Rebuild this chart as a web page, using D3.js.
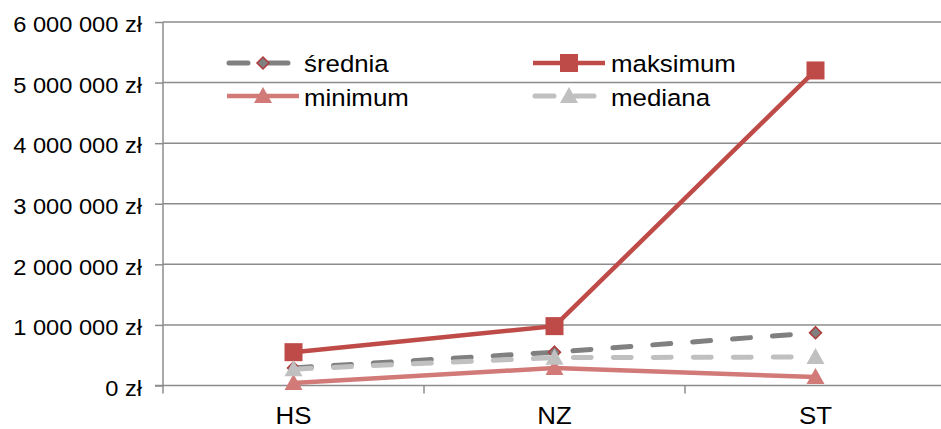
<!DOCTYPE html>
<html>
<head>
<meta charset="utf-8">
<script src="https://cdn.jsdelivr.net/npm/d3@7"></script>
<style>
  body { margin: 0; background: #fff; }
  text { font-family: "Liberation Sans", Arial, sans-serif; fill: #000; }
</style>
</head>
<body>
<script>
// Data
const categories = ['HS', 'NZ', 'ST'];
const srednia = [290000, 550000, 870000];
const maksimum = [550000, 980000, 5200000];
const minimum = [40000, 290000, 140000];
const mediana = [270000, 460000, 470000];
const yTicks = [0, 1000000, 2000000, 3000000, 4000000, 5000000, 6000000];
const yTickLabels = ['0 zł', '1 000 000 zł', '2 000 000 zł', '3 000 000 zł', '4 000 000 zł', '5 000 000 zł', '6 000 000 zł'];

const series = [
    { name: 'średnia', values: srednia, color: '#808080', width: 5, dash: '18,22', marker: 'diamond' },
    { name: 'maksimum', values: maksimum, color: '#BE4B48', width: 4.5, dash: null, marker: 'square' },
    { name: 'minimum', values: minimum, color: '#D27A78', width: 4.5, dash: null, marker: 'triangle' },
    { name: 'mediana', values: mediana, color: '#C0C0C0', width: 5, dash: '18,22', marker: 'triangle' }
];

const W = 941, H = 429;
const plotLeft = 163, plotRight = 946, plotTop = 22, plotBottom = 385.5;
const sx = 1.1; // horizontal stretch of the text

const svg = d3.select('body').append('svg')
    .attr('width', W)
    .attr('height', H);

const x = d3.scaleBand().domain(categories).range([plotLeft, plotRight]).padding(0);
const cx = c => x(c) + x.bandwidth() / 2;
const y = d3.scaleLinear().domain([0, 6000000]).range([plotBottom, plotTop]);

// gridlines
svg.append('g').selectAll('line')
    .data(yTicks.slice(1))
    .enter().append('line')
    .attr('x1', plotLeft).attr('x2', W)
    .attr('y1', d => y(d)).attr('y2', d => y(d))
    .attr('stroke', '#8c8c8c').attr('stroke-width', 1.5);

// y axis
const yAxis = svg.append('g')
    .attr('transform', `translate(${plotLeft},0)`)
    .call(d3.axisLeft(y).tickValues(yTicks).tickSize(8)
        .tickFormat((d, i) => yTickLabels[i]));
yAxis.select('.domain').remove();
yAxis.selectAll('.tick line').attr('stroke', '#8c8c8c').attr('stroke-width', 1.5);
yAxis.selectAll('.tick text')
    .attr('x', -21 / sx)
    .attr('dy', '0.45em')
    .attr('transform', `scale(${sx},1)`)
    .style('font-size', '21.5px');
svg.append('line')
    .attr('x1', plotLeft).attr('x2', plotLeft)
    .attr('y1', plotTop).attr('y2', plotBottom + 8)
    .attr('stroke', '#8c8c8c').attr('stroke-width', 1.5);

// x axis
svg.append('line')
    .attr('x1', plotLeft - 8).attr('x2', W)
    .attr('y1', plotBottom).attr('y2', plotBottom)
    .attr('stroke', '#8c8c8c').attr('stroke-width', 1.5);
svg.append('g').selectAll('line')
    .data(categories.slice(1))
    .enter().append('line')
    .attr('x1', d => x(d)).attr('x2', d => x(d))
    .attr('y1', plotBottom).attr('y2', plotBottom + 8)
    .attr('stroke', '#8c8c8c').attr('stroke-width', 1.5);
svg.append('g').selectAll('text')
    .data(categories)
    .enter().append('text')
    .attr('transform', d => `translate(${cx(d)},424) scale(${sx},1)`)
    .attr('text-anchor', 'middle')
    .style('font-size', '23.5px')
    .text(d => d);

// markers
function drawMarker(g, type, px, py, s) {
    if (type === 'square') {
        g.append('rect')
            .attr('x', px - 9).attr('y', py - 9)
            .attr('width', 18).attr('height', 18)
            .attr('fill', s.color);
    } else if (type === 'triangle') {
        g.append('path')
            .attr('d', `M${px},${py - 9}L${px + 9},${py + 7}L${px - 9},${py + 7}Z`)
            .attr('fill', s.color);
    } else if (type === 'diamond') {
        g.append('path')
            .attr('d', `M${px},${py - 6}L${px + 6},${py}L${px},${py + 6}L${px - 6},${py}Z`)
            .attr('fill', '#808080')
            .attr('stroke', '#B03A3A')
            .attr('stroke-width', 1.5);
    }
}

const line = d3.line()
    .x((d, i) => cx(categories[i]))
    .y(d => y(d));

series.forEach(s => {
    const g = svg.append('g');
    g.append('path')
        .attr('d', line(s.values))
        .attr('fill', 'none')
        .attr('stroke', s.color)
        .attr('stroke-width', s.width)
        .attr('stroke-linecap', s.dash ? 'round' : 'butt')
        .attr('stroke-dasharray', s.dash);
    s.values.forEach((v, i) => drawMarker(g, s.marker, cx(categories[i]), y(v), s));
});

// legend
const legendPos = [
    { x1: 229, x2: 289, mx: 263, ly: 63, tx: 304, ty: 72 },
    { x1: 533, x2: 605, mx: 569, ly: 63, tx: 611, ty: 72 },
    { x1: 227, x2: 299, mx: 263, ly: 96, tx: 304, ty: 106 },
    { x1: 535, x2: 595, mx: 569, ly: 96, tx: 611, ty: 106 }
];
series.forEach((s, i) => {
    const p = legendPos[i];
    const g = svg.append('g');
    g.append('line')
        .attr('x1', p.x1).attr('x2', p.x2)
        .attr('y1', p.ly).attr('y2', p.ly)
        .attr('stroke', s.color)
        .attr('stroke-width', s.width)
        .attr('stroke-linecap', s.dash ? 'round' : 'butt')
        .attr('stroke-dasharray', s.dash ? '19,21' : null);
    drawMarker(g, s.marker, p.mx, p.ly, s);
    g.append('text')
        .attr('transform', `translate(${p.tx},${p.ty}) scale(${sx},1)`)
        .style('font-size', '23.5px')
        .text(s.name);
});
</script>
</body>
</html>
